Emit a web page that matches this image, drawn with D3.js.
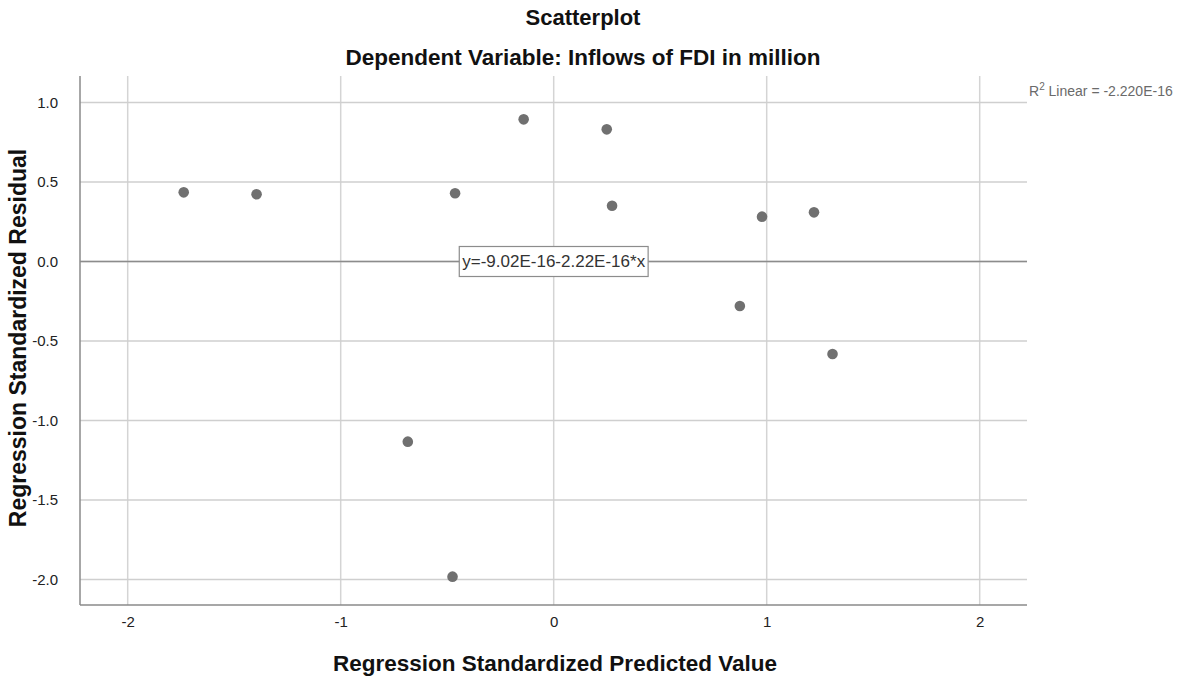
<!DOCTYPE html>
<html>
<head>
<meta charset="utf-8">
<script src="https://cdn.jsdelivr.net/npm/d3@7"></script>
<style>
  body { margin: 0; background: #fff; }
  text { font-family: "Liberation Sans", Arial, sans-serif; }
</style>
</head>
<body>
<script>
// predicted (x) and residual (y) values
var predicted = [-1.737, -1.395, -0.463, -0.141, 0.249, 0.274, 0.978, 1.222, 0.874, 1.309, -0.685, -0.475];
var residual  = [0.435, 0.423, 0.429, 0.894, 0.831, 0.351, 0.282, 0.309, -0.280, -0.582, -1.133, -1.982];
var xTicks = [-2, -1, 0, 1, 2];
var yTicks = [1.0, 0.5, 0.0, -0.5, -1.0, -1.5, -2.0];
var fitIntercept = -9.02e-16;
var fitSlope = -2.22e-16;
var eqText = "y=-9.02E-16-2.22E-16*x";
var r2Text = "-2.220E-16";

var width = 1188, height = 678;
var plotLeft = 80, plotRight = 1027, plotTop = 76, plotBottom = 605;

var svg = d3.select("body").append("svg")
    .attr("width", width)
    .attr("height", height);

var xScale = d3.scaleLinear().domain([-2, 2]).range([127.7, 979.7]);
var yScale = d3.scaleLinear().domain([1, -2]).range([102.5, 579.5]);

// grid lines
svg.append("g").selectAll("line").data(xTicks).enter().append("line")
    .attr("x1", d => xScale(d)).attr("x2", d => xScale(d))
    .attr("y1", plotTop).attr("y2", plotBottom)
    .style("stroke", "#d4d4d4").style("stroke-width", 1.5);

svg.append("g").selectAll("line").data(yTicks).enter().append("line")
    .attr("x1", plotLeft).attr("x2", plotRight)
    .attr("y1", d => yScale(d)).attr("y2", d => yScale(d))
    .style("stroke", "#cfcfcf").style("stroke-width", 1.5);

// axes (plain hyphen for minus, like the original)
var xAxis = d3.axisBottom(xScale).tickValues(xTicks).tickSize(0).tickPadding(11)
    .tickFormat(d => d3.format("d")(d).replace("\u2212", "-"));
var yAxis = d3.axisLeft(yScale).tickValues(yTicks).tickSize(0).tickPadding(22)
    .tickFormat(d => d3.format(".1f")(d).replace("\u2212", "-"));

var gx = svg.append("g").attr("transform", "translate(0," + plotBottom + ")").call(xAxis);
var gy = svg.append("g").attr("transform", "translate(" + plotLeft + ",0)").call(yAxis);
gx.select(".domain").remove();
gy.select(".domain").remove();
svg.selectAll(".tick text")
    .style("font-family", "'Liberation Sans', Arial, sans-serif")
    .style("font-size", "15px")
    .style("fill", "#222");

svg.append("line").attr("x1", plotLeft).attr("x2", plotRight).attr("y1", plotBottom).attr("y2", plotBottom)
    .style("stroke", "#8a8a8a").style("stroke-width", 1.5);
svg.append("line").attr("x1", plotLeft).attr("x2", plotLeft).attr("y1", plotTop).attr("y2", plotBottom)
    .style("stroke", "#8a8a8a").style("stroke-width", 1.5);

// fit line
var xd = [xScale.invert(plotLeft), xScale.invert(plotRight)];
var fitLine = d3.line()
    .x(d => xScale(d))
    .y(d => yScale(fitIntercept + fitSlope * d));
svg.append("path")
    .datum(xd)
    .attr("d", fitLine)
    .style("fill", "none")
    .style("stroke", "#8c8c8c")
    .style("stroke-width", 1.5);

// points
svg.append("g").selectAll("circle").data(predicted).enter().append("circle")
    .attr("cx", d => xScale(d))
    .attr("cy", (d, i) => yScale(residual[i]))
    .attr("r", 5.3)
    .style("fill", "#707070");

// equation label
var eq = svg.append("g").attr("transform", "translate(" + xScale(0) + "," + yScale(0) + ")");
var eqRect = eq.append("rect");
var eqT = eq.append("text")
    .attr("text-anchor", "middle")
    .attr("dy", "0.35em")
    .style("font-size", "17px")
    .style("fill", "#333")
    .text(eqText);
var tw = eqT.node().getComputedTextLength();
eqRect.attr("x", -tw / 2 - 3).attr("y", -15).attr("width", tw + 6).attr("height", 30)
    .style("fill", "#fff").style("stroke", "#8c8c8c").style("stroke-width", 1.2);

// R2 label
var r2 = svg.append("text")
    .attr("x", 1029).attr("y", 96)
    .style("font-size", "14px")
    .style("fill", "#6a6a6a");
r2.append("tspan").text("R");
r2.append("tspan").attr("dy", -6).style("font-size", "10px").text("2");
r2.append("tspan").attr("dy", 6).text(" Linear = " + r2Text);

// titles
svg.append("text").attr("x", 583).attr("y", 25)
    .attr("text-anchor", "middle")
    .style("font-size", "22px").style("font-weight", "bold").style("fill", "#111")
    .text("Scatterplot");
svg.append("text").attr("x", 583).attr("y", 65)
    .attr("text-anchor", "middle")
    .style("font-size", "22.5px").style("font-weight", "bold").style("fill", "#111")
    .text("Dependent Variable: Inflows of FDI in million");
svg.append("text").attr("x", 555).attr("y", 671)
    .attr("text-anchor", "middle")
    .style("font-size", "22.5px").style("font-weight", "bold").style("fill", "#111")
    .text("Regression Standardized Predicted Value");
svg.append("text")
    .attr("transform", "translate(26,338) rotate(-90)")
    .attr("text-anchor", "middle")
    .style("font-size", "23px").style("font-weight", "bold").style("fill", "#111")
    .text("Regression Standardized Residual");
</script>
</body>
</html>
